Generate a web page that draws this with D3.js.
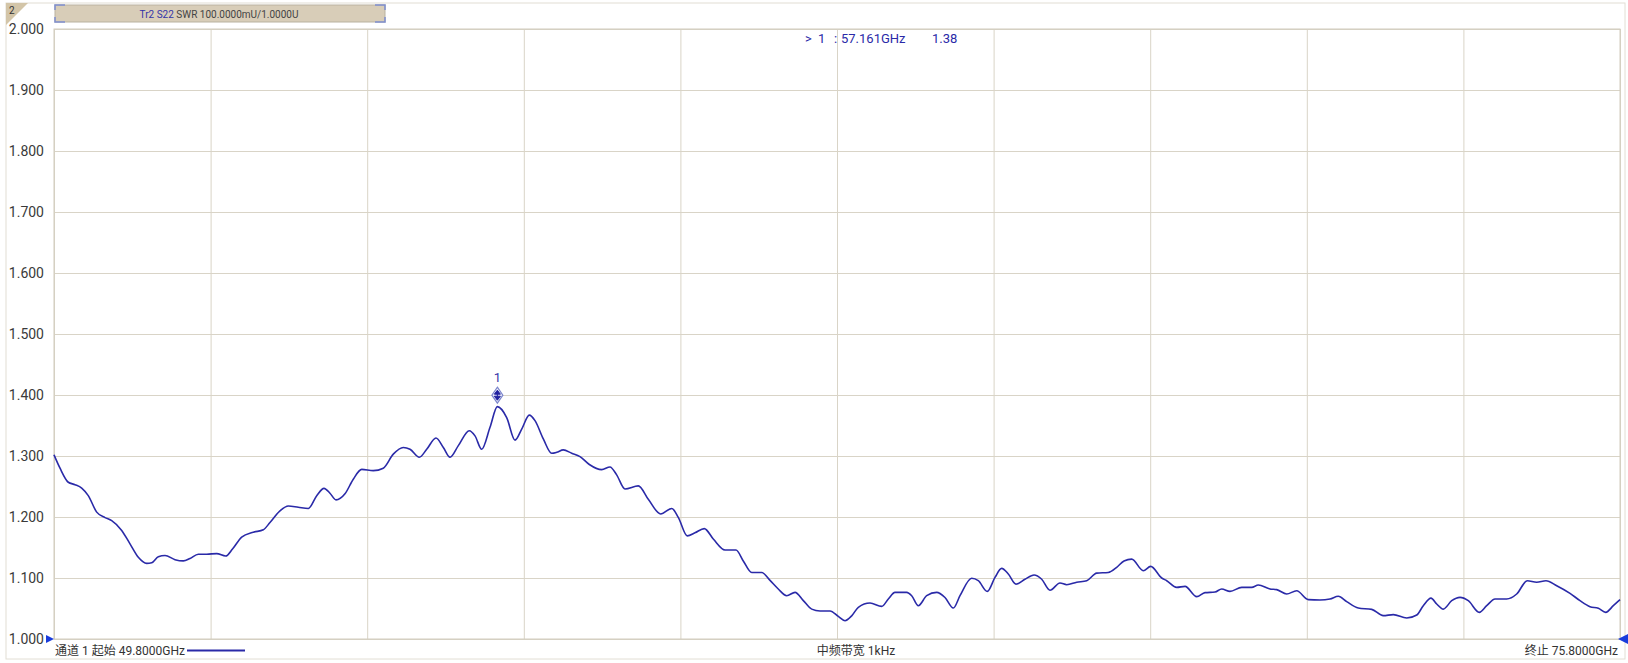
<!DOCTYPE html>
<meta charset="utf-8">
<head>
<style>
    body { margin: 0; background: #fff; }
    svg text { font-family: Roboto, "Noto Sans", "Noto Sans CJK SC", sans-serif; }
</style>
</head>
<script src="https://cdn.jsdelivr.net/npm/d3@7"></script>

<div id="vna"></div>

<script>
    // trace data (GHz, SWR)
    var freqGHz = [49.800, 49.900, 50.037, 50.149, 50.260, 50.369, 50.509, 50.647, 50.758, 50.924,
        51.062, 51.200, 51.339, 51.422, 51.532, 51.643, 51.809, 51.947, 52.058, 52.196,
        52.335, 52.501, 52.651, 52.767, 52.916, 53.109, 53.275, 53.386, 53.552, 53.690,
        53.856, 54.022, 54.162, 54.283, 54.382, 54.482, 54.631, 54.769, 54.909, 55.101,
        55.267, 55.433, 55.599, 55.711, 55.865, 55.988, 56.142, 56.264, 56.375, 56.513,
        56.695, 56.790, 56.901, 57.039, 57.161, 57.316, 57.454, 57.565, 57.691, 57.786,
        57.924, 58.063, 58.146, 58.256, 58.395, 58.533, 58.688, 58.893, 59.031, 59.142,
        59.280, 59.501, 59.667, 59.873, 60.056, 60.165, 60.315, 60.442, 60.597, 60.746,
        60.941, 61.123, 61.244, 61.384, 61.550, 61.688, 61.825, 61.965, 62.103, 62.241,
        62.380, 62.518, 62.684, 62.822, 62.933, 63.044, 63.154, 63.348, 63.542, 63.652,
        63.763, 63.957, 64.040, 64.150, 64.289, 64.455, 64.593, 64.731, 64.842, 65.036,
        65.146, 65.295, 65.423, 65.534, 65.644, 65.772, 65.921, 66.071, 66.199, 66.336,
        66.502, 66.614, 66.780, 66.946, 67.112, 67.304, 67.444, 67.565, 67.693, 67.885,
        68.008, 68.191, 68.274, 68.440, 68.578, 68.772, 68.910, 69.076, 69.187, 69.325,
        69.519, 69.685, 69.795, 69.989, 70.100, 70.266, 70.432, 70.625, 70.819, 70.985,
        71.123, 71.262, 71.455, 71.678, 71.870, 72.036, 72.259, 72.425, 72.534, 72.662,
        72.757, 72.866, 73.006, 73.144, 73.281, 73.464, 73.587, 73.725, 73.919, 74.085,
        74.261, 74.417, 74.571, 74.749, 74.970, 75.136, 75.302, 75.440, 75.563, 75.689,
        75.800];
    var swr = [1.302, 1.280, 1.257, 1.253, 1.2475, 1.235, 1.208, 1.199, 1.194, 1.178,
        1.156, 1.134, 1.124, 1.125, 1.135, 1.137, 1.130, 1.128, 1.132, 1.139,
        1.139, 1.140, 1.136, 1.148, 1.167, 1.175, 1.179, 1.191, 1.210, 1.218,
        1.216, 1.214, 1.235, 1.247, 1.239, 1.228, 1.238, 1.262, 1.278, 1.276,
        1.280, 1.303, 1.314, 1.311, 1.298, 1.311, 1.3295, 1.314, 1.298, 1.317,
        1.3415, 1.333, 1.311, 1.347, 1.381, 1.363, 1.326, 1.344, 1.367, 1.358,
        1.328, 1.3045, 1.306, 1.310, 1.3045, 1.299, 1.286, 1.2776, 1.282, 1.269,
        1.246, 1.251, 1.229, 1.205, 1.214, 1.1995, 1.169, 1.174, 1.181, 1.164,
        1.146, 1.146, 1.128, 1.109, 1.109, 1.096, 1.082, 1.071, 1.0765, 1.063,
        1.049, 1.046, 1.046, 1.037, 1.030, 1.038, 1.052, 1.059, 1.0535, 1.0656,
        1.0765, 1.0765, 1.071, 1.0546, 1.071, 1.0765, 1.068, 1.0508, 1.071, 1.0995,
        1.0956, 1.078, 1.101, 1.1158, 1.1066, 1.090, 1.098, 1.105, 1.098, 1.080,
        1.0918, 1.089, 1.093, 1.0956, 1.108, 1.109, 1.1175, 1.128, 1.131, 1.112,
        1.119, 1.100, 1.0956, 1.0847, 1.0863, 1.0694, 1.076, 1.077, 1.082, 1.078,
        1.0847, 1.0847, 1.0885, 1.082, 1.081, 1.0738, 1.079, 1.0645, 1.064, 1.0656,
        1.070, 1.0612, 1.0508, 1.0486, 1.0383, 1.040, 1.0344, 1.0393, 1.0546, 1.067,
        1.0574, 1.049, 1.0628, 1.0683, 1.0628, 1.0437, 1.0546, 1.0656, 1.0656, 1.0738,
        1.0956, 1.093, 1.0956, 1.0874, 1.0749, 1.0628, 1.053, 1.0503, 1.0437, 1.0546,
        1.0645];

    var yTicks = [1.0, 1.1, 1.2, 1.3, 1.4, 1.5, 1.6, 1.7, 1.8, 1.9, 2.0];
    var xGrid = [49.8, 52.4, 55.0, 57.6, 60.2, 62.8, 65.4, 68.0, 70.6, 73.2, 75.8];
    var startGHz = 49.8, stopGHz = 75.8;
    var markerFreq = 57.161, markerVal = 1.38;

    var width = 1628, height = 663,
        plot = { left: 54, top: 29, right: 1620, bottom: 639 },
        gridColor = '#d9d4c7',
        traceColor = '#2a2aa8',
        labelColor = '#3a3a3a';

    var svg = d3.select('#vna').append('svg')
        .attr('width', width)
        .attr('height', height);

    var xScale = d3.scaleLinear()
        .domain([startGHz, stopGHz])
        .range([plot.left, plot.right]);

    var yScale = d3.scaleLinear()
        .domain([1, 2])
        .range([plot.bottom, plot.top]);

    // outer frame + corner tab
    svg.append('rect')
        .attr('x', 6).attr('y', 3)
        .attr('width', 1619).attr('height', 656)
        .attr('fill', 'none')
        .attr('stroke', '#e2ded4');
    svg.append('path')
        .attr('d', 'M6,3 L28,3 L6,25 Z')
        .attr('fill', '#d3c5a8');
    svg.append('text')
        .attr('x', 9).attr('y', 14)
        .style('font-size', '10px')
        .attr('fill', '#333')
        .text('2');

    // grid from the axes
    var xGridAxis = d3.axisBottom(xScale)
        .tickValues(xGrid)
        .tickSize(-(plot.bottom - plot.top))
        .tickFormat('');
    var gx = svg.append('g')
        .attr('transform', 'translate(0,' + plot.bottom + ')')
        .call(xGridAxis);
    gx.select('.domain').remove();
    gx.selectAll('line').attr('stroke', gridColor);

    var yAxis = d3.axisLeft(yScale)
        .tickValues(yTicks)
        .tickSize(-(plot.right - plot.left))
        .tickPadding(10)
        .tickFormat(d3.format('.3f'));
    var gy = svg.append('g')
        .attr('transform', 'translate(' + plot.left + ',0)')
        .call(yAxis);
    gy.select('.domain').remove();
    gy.selectAll('line').attr('stroke', gridColor);
    gy.selectAll('text')
        .style('font-size', '14px')
        .style('font-family', 'Roboto, sans-serif')
        .attr('fill', labelColor);

    // plot border
    svg.append('rect')
        .attr('x', plot.left).attr('y', plot.top)
        .attr('width', plot.right - plot.left)
        .attr('height', plot.bottom - plot.top)
        .attr('fill', 'none')
        .attr('stroke', '#d2ccbe');

    // header tab
    svg.append('rect')
        .attr('x', 55).attr('y', 5)
        .attr('width', 330).attr('height', 17)
        .attr('fill', '#d8cdb8')
        .attr('stroke', '#b9b2a0');
    [[55, 5, 1, 1], [385, 5, -1, 1], [55, 22, 1, -1], [385, 22, -1, -1]].forEach(function(c) {
        svg.append('path')
            .attr('d', 'M' + (c[0] + 10 * c[2]) + ',' + c[1] + ' H' + c[0] + ' V' + (c[1] + 5 * c[3]))
            .attr('fill', 'none')
            .attr('stroke', '#7f8fd0')
            .attr('stroke-width', 1.5);
    });
    var head = svg.append('text')
        .attr('x', 219).attr('y', 17.5)
        .attr('text-anchor', 'middle')
        .style('font-size', '10px');
    head.append('tspan').attr('fill', '#3434a8').text('Tr2 S22');
    head.append('tspan').attr('fill', '#444').text(' SWR 100.0000mU/1.0000U');

    // trace
    var line = d3.line()
        .x(function(d, i) { return xScale(freqGHz[i]); })
        .y(function(d) { return yScale(d); })
        .curve(d3.curveMonotoneX);

    svg.append('path')
        .datum(swr)
        .attr('d', line)
        .attr('fill', 'none')
        .attr('stroke', traceColor)
        .attr('stroke-width', 1.6);

    // marker 1
    var mx = xScale(markerFreq), my = yScale(markerVal) - 12;
    svg.append('path')
        .attr('d', 'M' + mx + ',' + (my - 8) + ' L' + (mx + 5.5) + ',' + my + ' L' + mx + ',' + (my + 8) + ' L' + (mx - 5.5) + ',' + my + ' Z')
        .attr('fill', '#eef0fb')
        .attr('stroke', '#7c86cc')
        .attr('stroke-width', 1.2);
    svg.append('path')
        .attr('d', 'M' + mx + ',' + (my - 5) + ' L' + (mx + 3) + ',' + (my - 1) + ' L' + (mx - 3) + ',' + (my - 1) + ' Z' +
            ' M' + mx + ',' + (my + 5) + ' L' + (mx + 3) + ',' + (my + 1) + ' L' + (mx - 3) + ',' + (my + 1) + ' Z' +
            ' M' + mx + ',' + (my - 2) + ' V' + (my + 2))
        .attr('fill', '#2020a0')
        .attr('stroke', '#2020a0')
        .attr('stroke-width', 1);
    svg.append('text')
        .attr('x', mx).attr('y', my - 13)
        .attr('text-anchor', 'middle')
        .style('font-size', '13px')
        .attr('fill', '#3434a8')
        .text('1');

    // marker readout
    var readout = [['>', 805], ['1', 818], [':', 834], [markerFreq.toFixed(3) + 'GHz', 841], [markerVal.toFixed(2), 932]];
    readout.forEach(function(r) {
        svg.append('text')
            .attr('x', r[1]).attr('y', 43)
            .style('font-size', '13px')
            .attr('fill', '#2a2aa8')
            .text(r[0]);
    });

    // reference arrows at 1.000
    svg.append('path')
        .attr('d', 'M46,635 L54,639 L46,643 Z')
        .attr('fill', '#1a3cdc');
    svg.append('path')
        .attr('d', 'M1628,634 L1618,639 L1628,644 Z')
        .attr('fill', '#1a3cdc');

    // status line
    svg.append('text')
        .attr('x', 55).attr('y', 655)
        .style('font-size', '12px')
        .attr('fill', '#333')
        .text('通道 1 起始 ' + startGHz.toFixed(4) + 'GHz');
    svg.append('line')
        .attr('x1', 187).attr('x2', 245)
        .attr('y1', 650.5).attr('y2', 650.5)
        .attr('stroke', traceColor)
        .attr('stroke-width', 2);
    svg.append('text')
        .attr('x', 856).attr('y', 655)
        .attr('text-anchor', 'middle')
        .style('font-size', '12px')
        .attr('fill', '#333')
        .text('中频带宽 1kHz');
    svg.append('text')
        .attr('x', 1618).attr('y', 655)
        .attr('text-anchor', 'end')
        .style('font-size', '12px')
        .attr('fill', '#333')
        .text('终止 ' + stopGHz.toFixed(4) + 'GHz');
</script>
